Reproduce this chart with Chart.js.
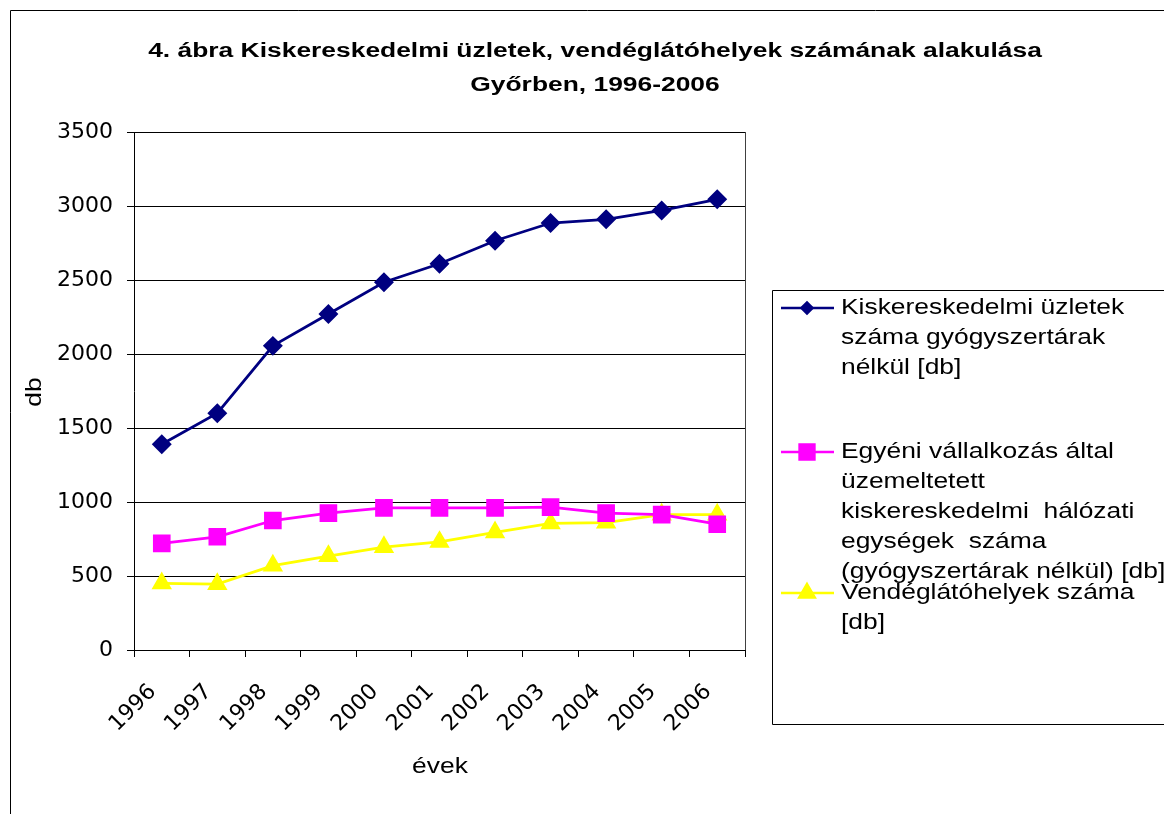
<!DOCTYPE html>
<html>
<head>
<meta charset="utf-8">
<script src="https://cdn.jsdelivr.net/npm/chart.js@4"></script>
<style>
  html, body { margin: 0; padding: 0; background: #fff; }
  canvas { display: block; }
</style>
</head>
<body>
<canvas id="chart" width="1164" height="814"></canvas>
<script>
const years = ['1996', '1997', '1998', '1999', '2000', '2001', '2002', '2003', '2004', '2005', '2006'];
const kiskerUzletek = [1390, 1600, 2055, 2270, 2485, 2610, 2765, 2885, 2910, 2970, 3045];
const egyeniVallalkozas = [720, 765, 875, 925, 960, 960, 960, 965, 925, 915, 850];
const vendeglatohelyek = [450, 445, 570, 635, 695, 730, 795, 855, 860, 915, 915];

const titleLines = ['4. ábra Kiskereskedelmi üzletek, vendéglátóhelyek számának alakulása', 'Győrben, 1996-2006'];
const legendLines = [
    ['Kiskereskedelmi üzletek', 'száma gyógyszertárak', 'nélkül [db]'],
    ['Egyéni vállalkozás által', 'üzemeltetett', 'kiskereskedelmi  hálózati', 'egységek  száma', '(gyógyszertárak nélkül) [db]'],
    ['Vendéglátóhelyek száma', '[db]']
];

const FONT = 'Arial, "Liberation Sans", sans-serif';
const TICK_FONT = '"DejaVu Sans", sans-serif';

// the original Excel text is stretched sideways, so draw it scaled
function wideText(ctx, text, x, y, sx) {
    ctx.save();
    ctx.translate(x, y);
    ctx.scale(sx, 1);
    ctx.fillText(text, 0, 0);
    ctx.restore();
}

// title, axis titles, frame, plot border and legend drawn by hand
const decorations = {
    id: 'decorations',
    afterDraw(chart) {
        const ctx = chart.ctx;
        const area = chart.chartArea;
        ctx.save();

        // outer frame (only top and left visible)
        ctx.strokeStyle = '#000';
        ctx.lineWidth = 1;
        ctx.beginPath();
        ctx.moveTo(10.5, 814);
        ctx.lineTo(10.5, 10.5);
        ctx.lineTo(1164, 10.5);
        ctx.stroke();

        // plot area border on the right
        ctx.strokeStyle = '#404040';
        ctx.beginPath();
        ctx.moveTo(Math.round(area.right) + 0.5, area.top);
        ctx.lineTo(Math.round(area.right) + 0.5, area.bottom);
        ctx.stroke();

        // title
        ctx.fillStyle = '#000';
        ctx.textAlign = 'center';
        ctx.textBaseline = 'middle';
        ctx.font = 'bold 20px ' + FONT;
        wideText(ctx, titleLines[0], 595, 51, 1.32);
        wideText(ctx, titleLines[1], 595, 85, 1.32);

        // axis titles
        ctx.font = '22px ' + FONT;
        wideText(ctx, 'évek', 440, 767, 1.2);
        ctx.save();
        ctx.translate(35, 392);
        ctx.rotate(-Math.PI / 2);
        wideText(ctx, 'db', 0, 0, 1.2);
        ctx.restore();

        // legend box
        ctx.strokeStyle = '#000';
        ctx.beginPath();
        ctx.rect(772.5, 290.5, 500, 434);
        ctx.stroke();

        const entryY = [308, 452, 593];
        const lineH = 30;
        ctx.textAlign = 'left';
        ctx.font = '22px ' + FONT;
        chart.data.datasets.forEach((ds, i) => {
            const y = entryY[i];
            ctx.strokeStyle = ds.borderColor;
            ctx.lineWidth = 2.5;
            ctx.beginPath();
            ctx.moveTo(781, y);
            ctx.lineTo(834, y);
            ctx.stroke();
            Chart.helpers.drawPoint(ctx, {
                pointStyle: ds.pointStyle,
                radius: ds.legendRadius,
                borderWidth: 1
            }, 807, y);
            ctx.fillStyle = ds.pointBackgroundColor;
            ctx.fill();
            ctx.fillStyle = '#000';
            legendLines[i].forEach((t, j) => {
                wideText(ctx, t, 841, y + j * lineH, 1.2);
            });
        });
        ctx.restore();
    }
};

const datasets = [
    { label: legendLines[0].join(' '), data: kiskerUzletek, color: '#000080', style: 'rectRot', r: 8, lr: 5.5 },
    { label: legendLines[1].join(' '), data: egyeniVallalkozas, color: '#FF00FF', style: 'rect', r: 10.5, lr: 10.5 },
    { label: legendLines[2].join(' '), data: vendeglatohelyek, color: '#FFFF00', style: 'triangle', r: 9, lr: 9 }
].map(d => ({
    label: d.label,
    data: d.data,
    borderColor: d.color,
    backgroundColor: d.color,
    pointBackgroundColor: d.color,
    pointBorderColor: d.color,
    pointStyle: d.style,
    pointRadius: d.r,
    pointHoverRadius: d.r,
    legendRadius: d.lr,
    borderWidth: 2.8,
    tension: 0
}));

new Chart(document.getElementById('chart'), {
    type: 'line',
    data: { labels: years, datasets: datasets },
    options: {
        responsive: false,
        animation: false,
        devicePixelRatio: 1,
        layout: { padding: { top: 132, right: 419, bottom: 0, left: 0 } },
        plugins: {
            legend: { display: false },
            title: { display: false },
            tooltip: { enabled: false }
        },
        scales: {
            x: {
                offset: true,
                afterFit: (scale) => { scale.height = 164; },
                grid: { offset: true, drawOnChartArea: false, drawTicks: true, tickLength: 7, color: '#000' },
                border: { display: true, color: '#000' },
                ticks: {
                    color: '#000',
                    font: { family: TICK_FONT, size: 22 },
                    minRotation: 45,
                    maxRotation: 45,
                    padding: 22,
                    labelOffset: -9,
                    autoSkip: false
                }
            },
            y: {
                min: 0,
                max: 3500,
                afterFit: (scale) => { scale.width = 134; },
                grid: { color: '#000', tickLength: 7, drawTicks: true },
                border: { display: true, color: '#000' },
                ticks: {
                    stepSize: 500,
                    color: '#000',
                    font: { family: TICK_FONT, size: 22 },
                    padding: 14,
                    callback: (v) => String(v)
                }
            }
        }
    },
    plugins: [decorations]
});
</script>
</body>
</html>
